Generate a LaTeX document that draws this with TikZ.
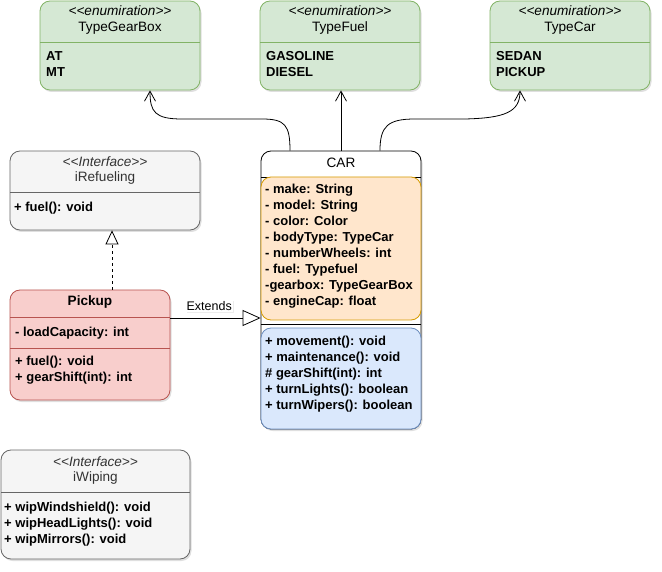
\documentclass[tikz,border=0pt]{standalone}
\usepackage{fontspec}
\setmainfont{Liberation Sans}
\usetikzlibrary{arrows.meta,shadows,positioning}

\definecolor{enumfill}{HTML}{D5E8D4}
\definecolor{enumdraw}{HTML}{82B366}
\definecolor{ifacefill}{HTML}{F5F5F5}
\definecolor{ifacedraw}{HTML}{666666}
\definecolor{ifacetext}{HTML}{333333}
\definecolor{pickfill}{HTML}{F8CECC}
\definecolor{pickdraw}{HTML}{B85450}
\definecolor{attrfill}{HTML}{FFE6CC}
\definecolor{attrdraw}{HTML}{D79B00}
\definecolor{methfill}{HTML}{DAE8FC}
\definecolor{methdraw}{HTML}{6C8EBF}

\newcommand\umlfont{\fontsize{13}{15}\selectfont}
\newcommand\headfont{\fontsize{13.6}{15}\selectfont}

\tikzset{
	umlbox/.style={rounded corners=10pt, line width=0.8pt,
		drop shadow={shadow xshift=1.5pt, shadow yshift=-2pt, opacity=0.25}},
	enumbox/.style={umlbox, fill=enumfill, draw=enumdraw},
	ifacebox/.style={umlbox, fill=ifacefill, draw=ifacedraw},
	pickbox/.style={umlbox, fill=pickfill, draw=pickdraw},
	carbox/.style={umlbox, fill=white, draw=black},
	attrbox/.style={rounded corners=10pt, line width=0.8pt, fill=attrfill, draw=attrdraw},
	methbox/.style={rounded corners=10pt, line width=0.8pt, fill=methfill, draw=methdraw},
	stereo/.style={inner sep=0pt, text height=9.5pt, text depth=2.5pt, font=\headfont\itshape},
	title/.style={inner sep=0pt, text height=9.5pt, text depth=2.5pt, font=\headfont},
	item/.style={inner sep=0pt, anchor=west, text height=9.5pt, text depth=2.5pt, font=\umlfont\bfseries},
	assoc/.style={line width=0.8pt, -{Straight Barb[length=10pt,width=11pt]}},
	implements/.style={line width=0.8pt, dash pattern=on 3pt off 3pt,
		-{Triangle[open,length=14pt,width=13pt,fill=white]}},
	extends/.style={line width=0.8pt, -{Triangle[open,length=18pt,width=16pt,fill=white]}},
}

\begin{document}
\begin{tikzpicture}[x=1pt,y=-1pt]
		\useasboundingbox (0,0) rectangle (662,572);
		
		% enumerations
		\node[enumbox, minimum width=160pt, minimum height=89pt] (gearbox) at (120,45.5) {};
		\node[enumbox, minimum width=160pt, minimum height=89pt] (fuel) at (340,45.5) {};
		\node[enumbox, minimum width=160pt, minimum height=89pt] (typecar) at (570,45.5) {};
		\draw[enumdraw, line width=0.8pt] (40,42.5) -- (200,42.5);
		\draw[enumdraw, line width=0.8pt] (260,42.5) -- (420,42.5);
		\draw[enumdraw, line width=0.8pt] (490,42.5) -- (650,42.5);
		\node[stereo] (gearStereo) at (120,12) {{<}{<}enumiration{>}{>}};
		\node[title] (gearTitle) at (120,28) {TypeGearBox};
		\node[stereo] (fuelStereo) at (340,12) {{<}{<}enumiration{>}{>}};
		\node[title] (fuelTitle) at (340,28) {TypeFuel};
		\node[stereo] (carStereo) at (570,12) {{<}{<}enumiration{>}{>}};
		\node[title] (carTitle) at (570,28) {TypeCar};
		\foreach \txt [count=\i from 0] in {AT,MT}
			\node[item] (gearItem\i) at (46,{57+16*\i}) {\txt};
		\foreach \txt [count=\i from 0] in {GASOLINE,DIESEL}
			\node[item] (fuelItem\i) at (266,{57+16*\i}) {\txt};
		\foreach \txt [count=\i from 0] in {SEDAN,PICKUP}
			\node[item] (carItem\i) at (496,{57+16*\i}) {\txt};
		
		% interface iRefueling
		\node[ifacebox, minimum width=190pt, minimum height=79pt] (irefuel) at (105,190.5) {};
		\draw[ifacedraw, line width=0.8pt] (10,192.5) -- (200,192.5);
		\node[stereo, text=ifacetext] (refuelStereo) at (105,163) {{<}{<}Interface{>}{>}};
		\node[title, text=ifacetext] (refuelTitle) at (105,178) {iRefueling};
		\node[item] (refuelItem) at (14,208) {+ fuel(): void};
		
		% class CAR
		\node[carbox, minimum width=160pt, minimum height=278pt] (car) at (341,290) {};
		\node[title] (carName) at (341,164) {CAR};
		\draw[line width=0.8pt] (261,177) -- (421,177);
		\node[attrbox, minimum width=160pt, minimum height=143pt] (carAttr) at (341,248.5) {};
		\draw[line width=0.8pt] (261,324) -- (421,324);
		\node[methbox, minimum width=160pt, minimum height=101pt] (carMeth) at (341,378.5) {};
		\foreach \txt [count=\i from 0] in {- make: String,- model: String,- color: Color,
			- bodyType: TypeCar,- numberWheels: int,- fuel: Typefuel,
			-gearbox: TypeGearBox,- engineCap: float}
			\node[item] (attr\i) at (265,{190.5+16*\i}) {\txt};
		\foreach \txt [count=\i from 0] in {+ movement(): void,+ maintenance(): void,
			\# gearShift(int): int,+ turnLights(): boolean,+ turnWipers(): boolean}
			\node[item] (meth\i) at (265,{342+16*\i}) {\txt};
		
		% class Pickup
		\node[pickbox, minimum width=160pt, minimum height=110pt] (pickup) at (90,345) {};
		\node[title, font=\headfont\bfseries] (pickTitle) at (90,302) {Pickup};
		\draw[pickdraw, line width=0.8pt] (10,317.5) -- (170,317.5);
		\node[item] (pickAttr) at (15,333) {- loadCapacity: int};
		\draw[pickdraw, line width=0.8pt] (10,348) -- (170,348);
		\foreach \txt [count=\i from 0] in {+ fuel(): void,+ gearShift(int): int}
			\node[item] (pickMeth\i) at (15,{362+16*\i}) {\txt};
		
		% interface iWiping
		\node[ifacebox, minimum width=189pt, minimum height=109pt] (iwiping) at (95.5,504.5) {};
		\draw[ifacedraw, line width=0.8pt] (1,492.5) -- (190,492.5);
		\node[stereo, text=ifacetext] (wipStereo) at (95.5,463) {{<}{<}Interface{>}{>}};
		\node[title, text=ifacetext] (wipTitle) at (95.5,478) {iWiping};
		\foreach \txt [count=\i from 0] in {+ wipWindshield(): void,+ wipHeadLights(): void,
			+ wipMirrors(): void}
			\node[item] (wipItem\i) at (4,{508+16*\i}) {\txt};
		
		% connectors
		\coordinate (gearFrom) at ([xshift=-51pt]car.north);
		\coordinate (gearTo) at ([xshift=30pt]gearbox.south);
		\draw[assoc] (gearFrom) .. controls (290,125) and (285,119) .. (262,119)
			-- (182,119) .. controls (155,119) and (150,112) .. (gearTo);
		\draw[assoc] (car.north) -- (car.north |- fuel.south);
		\coordinate (carFrom) at ([xshift=39pt]car.north);
		\coordinate (carTo) at ([xshift=-50pt]typecar.south);
		\draw[assoc] (carFrom) .. controls (380,126) and (388,119) .. (415,119)
			-- (465,119) .. controls (505,118) and (520,112) .. (carTo);
		
		\coordinate (implFrom) at ([xshift=22pt]pickup.north);
		\draw[implements] (implFrom) -- (implFrom |- irefuel.south);
		
		\coordinate (extFrom) at ([yshift=27pt]pickup.east);
		\draw[extends] (extFrom) -- (extFrom -| car.west)
			node[pos=0.43, yshift=12pt, fill=white, inner sep=1pt, font=\fontsize{12.5}{14}\selectfont,
				drop shadow={shadow xshift=1pt, shadow yshift=-1pt, opacity=0.15}] (extLabel) {Extends};
\end{tikzpicture}
\end{document}
